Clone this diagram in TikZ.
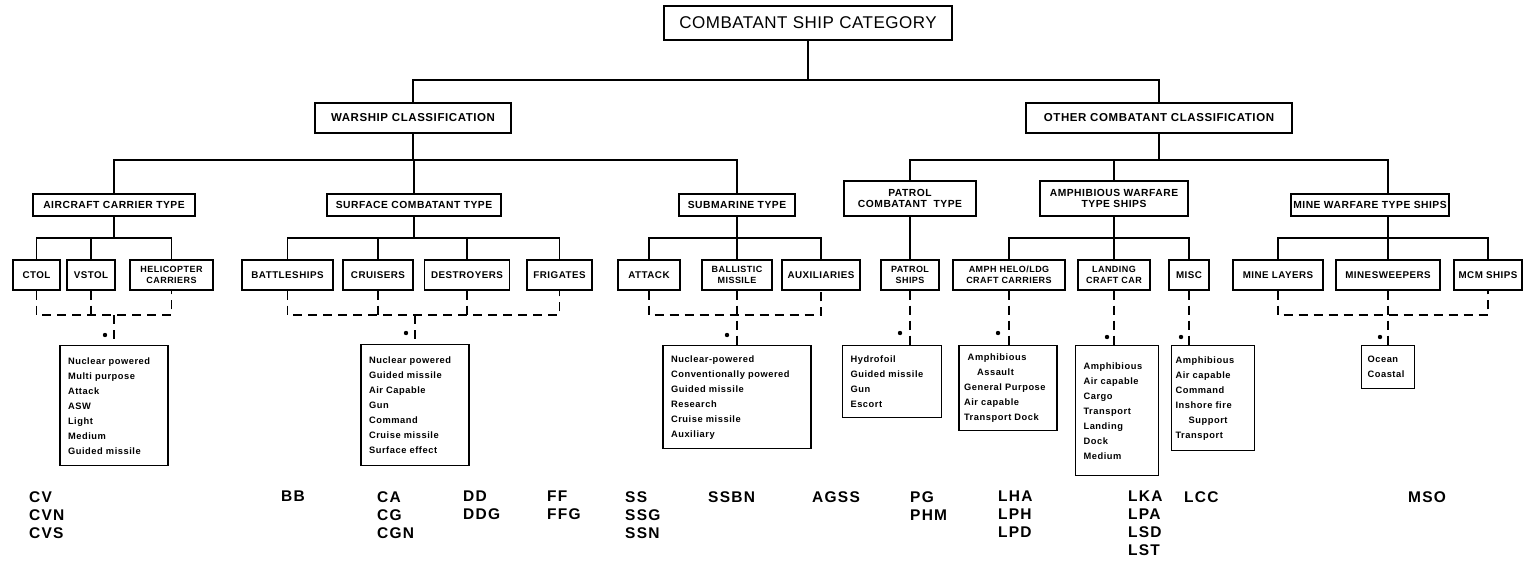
\documentclass[tikz,border=0pt]{standalone}
\usepackage{fontspec}
\setmainfont{Liberation Sans}
\newfontfamily\lblfont{Liberation Sans}[LetterSpace=5]
\newfontfamily\dscfont{Liberation Sans}[LetterSpace=6]
\newfontfamily\ttlfont{Liberation Sans}[LetterSpace=3]
\newfontfamily\cdfont{Liberation Sans}[LetterSpace=8]
\begin{document}
\begin{tikzpicture}[x=1pt,y=-1pt,
  every node/.style={inner sep=0pt},
  box/.style={draw, line width=1.4pt, align=center,
    font={\lblfont\bfseries\fontsize{10.3pt}{11pt}\selectfont}},
  lvtwo/.style={box, minimum height=30pt,
    font={\lblfont\bfseries\fontsize{11.5pt}{12pt}\selectfont}},
  lvthree/.style={box, minimum height=22pt},
  lvthreed/.style={box, minimum height=35pt},
  lvfour/.style={box, minimum height=30pt,
    font={\lblfont\bfseries\fontsize{9.8pt}{11pt}\selectfont}},
  lvfourd/.style={box, minimum height=30pt,
    font={\lblfont\bfseries\fontsize{9pt}{10.5pt}\selectfont}},
  desc/.style={draw, line width=1.4pt, anchor=north, align=left,
    inner xsep=8pt,
    font={\dscfont\bfseries\fontsize{9.3pt}{15pt}\selectfont}},
  code/.style={anchor=north west, align=left,
    font={\cdfont\bfseries\fontsize{15.5pt}{18pt}\selectfont}},
  conn/.style={line width=1.3pt},
  dconn/.style={line width=1.6pt, dash pattern=on 9pt off 6pt},
  dotmark/.style={fill=black}
]
\useasboundingbox (0,0) rectangle (1524,579);

% bus levels
\coordinate (busA) at (0,80);
\coordinate (busB) at (0,160);
\coordinate (busC) at (0,238);
\coordinate (busD) at (0,315);

% top and second level
\node[box, minimum width=288pt, minimum height=34pt,
  font={\ttlfont\fontsize{17pt}{19pt}\selectfont}] (top) at (808,23) {COMBATANT SHIP CATEGORY};
\node[lvtwo, minimum width=196pt] (war) at (413,118) {WARSHIP CLASSIFICATION};
\node[lvtwo, minimum width=266pt] (oth) at (1159,118) {OTHER COMBATANT CLASSIFICATION};

% third level
\node[lvthree, minimum width=162pt] (acar) at (114,205) {AIRCRAFT CARRIER TYPE};
\node[lvthree, minimum width=174pt] (surf) at (414,205) {SURFACE COMBATANT TYPE};
\node[lvthree, minimum width=116pt] (sub) at (737,205) {SUBMARINE TYPE};
\node[lvthreed, minimum width=132pt] (patc) at (910,198.5) {PATROL\\COMBATANT\ \ TYPE};
\node[lvthreed, minimum width=148pt] (amph) at (1114,198.5) {AMPHIBIOUS WARFARE\\TYPE SHIPS};
\node[lvthree, minimum width=158pt] (mine) at (1370,205) {MINE WARFARE TYPE SHIPS};

% fourth level
\node[lvfour, minimum width=47pt] (ctol) at (36.5,275) {CTOL};
\node[lvfour, minimum width=48pt] (vstol) at (91,275) {VSTOL};
\node[lvfourd, minimum width=83pt] (heli) at (171.5,275) {HELICOPTER\\CARRIERS};
\node[lvfour, minimum width=91pt] (batt) at (287.5,275) {BATTLESHIPS};
\node[lvfour, minimum width=70pt] (cruis) at (378,275) {CRUISERS};
\node[lvfour, minimum width=85pt] (destr) at (467,275) {DESTROYERS};
\node[lvfour, minimum width=65pt] (frig) at (559.5,275) {FRIGATES};
\node[lvfour, minimum width=62pt] (attack) at (649,275) {ATTACK};
\node[lvfourd, minimum width=70pt] (ballis) at (737,275) {BALLISTIC\\MISSILE};
\node[lvfour, minimum width=78pt] (aux) at (821,275) {AUXILIARIES};
\node[lvfourd, minimum width=58pt] (patrs) at (910,275) {PATROL\\SHIPS};
\node[lvfourd, minimum width=112pt] (amheli) at (1009,275) {AMPH HELO/LDG\\CRAFT CARRIERS};
\node[lvfourd, minimum width=72pt] (landing) at (1114,275) {LANDING\\CRAFT CAR};
\node[lvfour, minimum width=40pt] (misc) at (1189,275) {MISC};
\node[lvfour, minimum width=90pt] (mlay) at (1278,275) {MINE LAYERS};
\node[lvfour, minimum width=104pt] (sweep) at (1388,275) {MINESWEEPERS};
\node[lvfour, minimum width=68pt] (mcm) at (1488,275) {MCM SHIPS};

% description boxes
\node[desc, text width=92pt, minimum height=120pt] (dA) at (114,345)
  {Nuclear powered\\Multi purpose\\Attack\\ASW\\Light\\Medium\\Guided missile};
\node[desc, text width=92pt, minimum height=121pt] (dS) at (415,344)
  {Nuclear powered\\Guided missile\\Air Capable\\Gun\\Command\\Cruise missile\\Surface effect};
\node[desc, text width=132pt, minimum height=103pt] (dU) at (737,345)
  {Nuclear-powered\\Conventionally powered\\Guided missile\\Research\\Cruise missile\\Auxiliary};
\node[desc, text width=83pt, minimum height=72pt] (dP) at (892,345)
  {Hydrofoil\\Guided missile\\Gun\\Escort};
\node[desc, text width=88pt, minimum height=85pt, inner xsep=5pt] (dH) at (1008,345)
  {\hspace*{0.4em}Amphibious\\\hspace*{1.4em}Assault\\General Purpose\\Air capable\\Transport Dock};
\node[desc, text width=67pt, minimum height=130pt] (dL) at (1117,345)
  {Amphibious\\Air capable\\Cargo\\Transport\\Landing\\Dock\\Medium};
\node[desc, text width=75pt, minimum height=105pt, inner xsep=4pt] (dM) at (1213,345)
  {Amphibious\\Air capable\\Command\\Inshore fire\\\hspace*{1.4em}Support\\Transport};
\node[desc, text width=41pt, minimum height=43pt, inner xsep=6pt] (dN) at (1388,345)
  {Ocean\\Coastal};

% hull designations
\node[code] (cA) at (29,491) {CV\\CVN\\CVS};
\node[code] (cB) at (281,491) {BB};
\node[code] (cC) at (377,491) {CA\\CG\\CGN};
\node[code] (cD) at (463,491) {DD\\DDG};
\node[code] (cF) at (547,491) {FF\\FFG};
\node[code] (cS) at (625,491) {SS\\SSG\\SSN};
\node[code] (cBN) at (708,491) {SSBN};
\node[code] (cAG) at (812,491) {AGSS};
\node[code] (cP) at (910,491) {PG\\PHM};
\node[code] (cLH) at (998,491) {LHA\\LPH\\LPD};
\node[code] (cLK) at (1128,491) {LKA\\LPA\\LSD\\LST};
\node[code] (cLC) at (1184,491) {LCC};
\node[code] (cM) at (1408,491) {MSO};

% solid tree connectors
\draw[conn] (top.south) -- (top.south |- busA);
\draw[conn] (war.north) |- (oth.north |- busA) -- (oth.north);

\draw[conn] (war.south) -- (war.south |- busB);
\draw[conn] (acar.north) |- (sub.north |- busB) -- (sub.north);
\draw[conn] (surf.north) -- (surf.north |- busB);
\draw[conn] (oth.south) -- (oth.south |- busB);
\draw[conn] (patc.north) |- (sweep.north |- busB) -- (sweep.north |- mine.north);
\draw[conn] (amph.north) -- (amph.north |- busB);

\draw[conn] (acar.south) -- (acar.south |- busC);
\draw[conn] (ctol.north) |- (heli.north |- busC) -- (heli.north);
\draw[conn] (vstol.north) -- (vstol.north |- busC);
\draw[conn] (surf.south) -- (surf.south |- busC);
\draw[conn] (batt.north) |- (frig.north |- busC) -- (frig.north);
\draw[conn] (cruis.north) -- (cruis.north |- busC);
\draw[conn] (destr.north) -- (destr.north |- busC);
\draw[conn] (sub.south) -- (sub.south |- busC);
\draw[conn] (attack.north) |- (aux.north |- busC) -- (aux.north);
\draw[conn] (ballis.north) -- (ballis.north |- busC);
\draw[conn] (patc.south) -- (patrs.north);
\draw[conn] (amph.south) -- (amph.south |- busC);
\draw[conn] (amheli.north) |- (misc.north |- busC) -- (misc.north);
\draw[conn] (landing.north) -- (landing.north |- busC);
\draw[conn] (sweep.north |- mine.south) -- (sweep.north);
\draw[conn] (mlay.north) |- (mcm.north |- busC) -- (mcm.north);

% dashed links to the description boxes
\draw[dconn] (ctol.south) |- (heli.south |- busD) -- (heli.south);
\draw[dconn] (vstol.south) -- (vstol.south |- busD);
\draw[dconn] (dA.north |- busD) -- (dA.north);
\draw[dconn] (batt.south) |- (frig.south |- busD) -- (frig.south);
\draw[dconn] (cruis.south) -- (cruis.south |- busD);
\draw[dconn] (destr.south) -- (destr.south |- busD);
\draw[dconn] (dS.north |- busD) -- (dS.north);
\draw[dconn] (attack.south) |- (aux.south |- busD) -- (aux.south);
\draw[dconn] (ballis.south) -- (dU.north);
\draw[dconn] (patrs.south) -- (patrs.south |- dP.north);
\draw[dconn] (amheli.south) -- (amheli.south |- dH.north);
\draw[dconn] (landing.south) -- (landing.south |- dL.north);
\draw[dconn] (misc.south) -- (misc.south |- dM.north);
\draw[dconn] (mlay.south) |- (mcm.south |- busD) -- (mcm.south);
\draw[dconn] (sweep.south) -- (dN.north);

% bullet marks beside the dashed drops
\fill[dotmark] (dA.north) ++(-9,-10) circle (2.2);
\fill[dotmark] (dS.north) ++(-9,-11) circle (2.2);
\fill[dotmark] (dU.north) ++(-10,-10) circle (2.2);
\fill[dotmark] (patrs.south |- dP.north) ++(-10,-12) circle (2.2);
\fill[dotmark] (dH.north) ++(-10,-12) circle (2.2);
\fill[dotmark] (dL.north) ++(-10,-8) circle (2.2);
\fill[dotmark] (misc.south |- dM.north) ++(-8,-8) circle (2.2);
\fill[dotmark] (dN.north) ++(-8,-8) circle (2.2);
\end{tikzpicture}
\end{document}
